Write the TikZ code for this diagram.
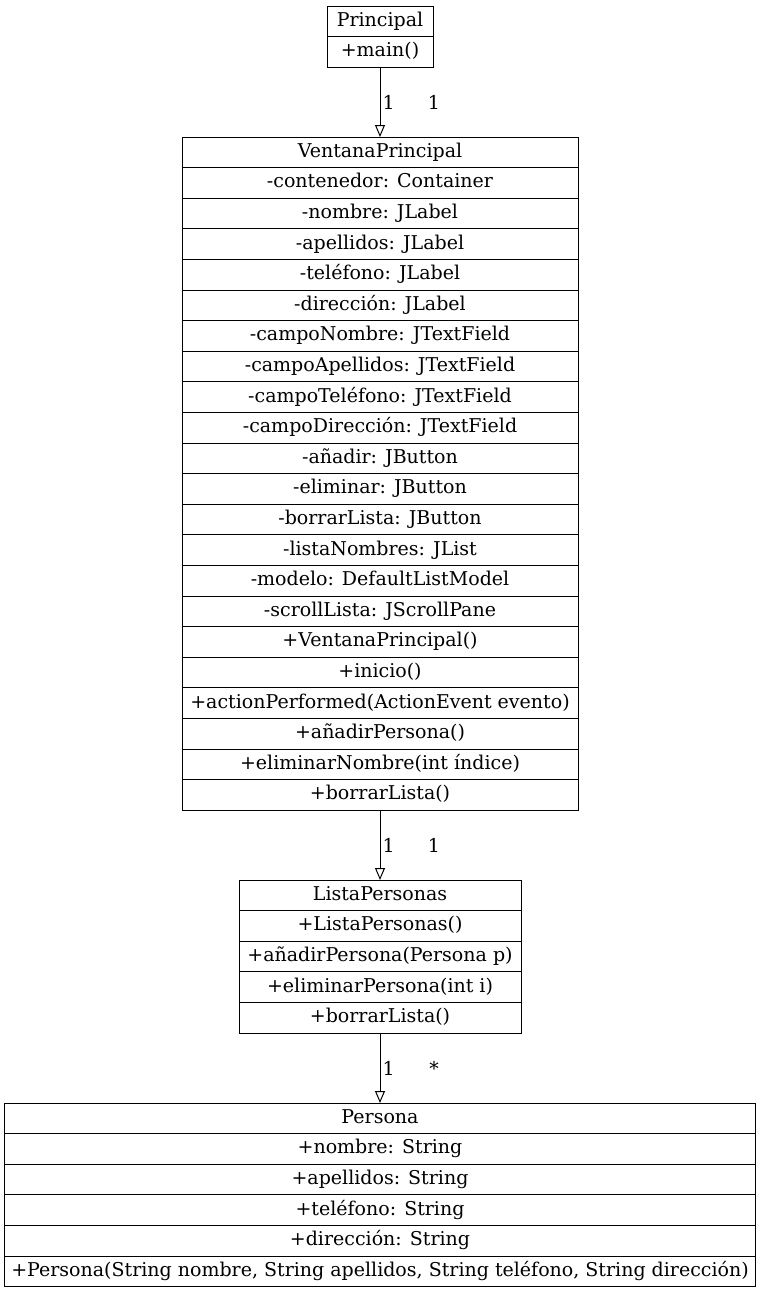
\documentclass[tikz,border=0pt]{standalone}
\usepackage{fontspec}
\setmainfont{DejaVu Serif}
\usetikzlibrary{positioning,arrows.meta}
\begin{document}
\begin{tikzpicture}[x=1pt,y=-1pt,
    row/.style={draw, line width=1pt, minimum height=30.6pt, inner sep=0pt,
      outer sep=0pt, text height=14pt, text depth=4pt,
      font=\fontsize{19}{22}\selectfont},
    assoc/.style={-{Triangle[open,width=10pt,length=12pt]}, line width=1pt},
    mult/.style={font=\fontsize{19}{22}\selectfont, inner sep=2pt}]
  \useasboundingbox (0,0) rectangle (761,1293);

  % Principal
  \node[row, minimum width=106pt, anchor=north] (p1) at (380,6) {Principal};
  \node[row, minimum width=106pt, below=0pt of p1] (p2) {+main()};

  % VentanaPrincipal
  \node[row, minimum width=396pt, anchor=north] (v1) at (380,137) {VentanaPrincipal};
  \foreach \txt [count=\i from 2, remember=\i as \j (initially 1)] in
    {-contenedor: Container, -nombre: JLabel, -apellidos: JLabel,
     -teléfono: JLabel, -dirección: JLabel, -campoNombre: JTextField,
     -campoApellidos: JTextField, -campoTeléfono: JTextField,
     -campoDirección: JTextField, -añadir: JButton, -eliminar: JButton,
     -borrarLista: JButton, -listaNombres: JList, -modelo: DefaultListModel,
     -scrollLista: JScrollPane, +VentanaPrincipal(), +inicio(),
     +actionPerformed(ActionEvent evento), +añadirPersona(),
     +eliminarNombre(int índice), +borrarLista()}
    \node[row, minimum width=396pt, below=0pt of v\j] (v\i) {\txt};

  % ListaPersonas
  \node[row, minimum width=282pt, anchor=north] (l1) at (380,880) {ListaPersonas};
  \foreach \txt [count=\i from 2, remember=\i as \j (initially 1)] in
    {+ListaPersonas(), +añadirPersona(Persona p), +eliminarPersona(int i),
     +borrarLista()}
    \node[row, minimum width=282pt, below=0pt of l\j] (l\i) {\txt};

  % Persona
  \node[row, minimum width=751pt, anchor=north] (e1) at (380,1103) {Persona};
  \foreach \txt [count=\i from 2, remember=\i as \j (initially 1)] in
    {+nombre: String, +apellidos: String, +teléfono: String, +dirección: String,
     {+Persona(String nombre, String apellidos, String teléfono, String dirección)}}
    \node[row, minimum width=751pt, below=0pt of e\j] (e\i) {\txt};

  \draw[assoc] (p2.south) -- node[right, mult] {1} node[mult, xshift=54pt] {1} (v1.north);
  \draw[assoc] (v22.south) -- node[right, mult] {1} node[mult, xshift=54pt] {1} (l1.north);
  \draw[assoc] (l5.south) -- node[right, mult] {1} node[mult, xshift=54pt] {*} (e1.north);
\end{tikzpicture}
\end{document}
